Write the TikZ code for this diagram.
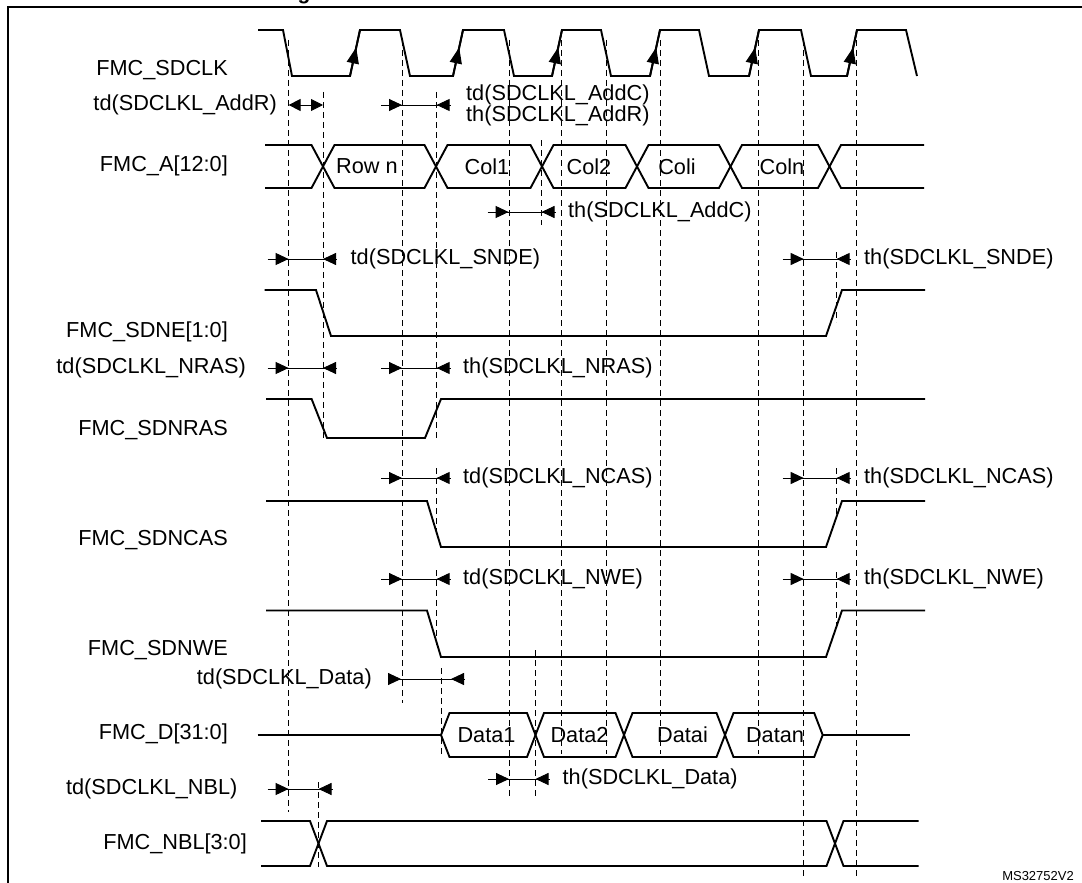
\documentclass[tikz,border=0pt]{standalone}
\usepackage{fontspec}
\setmainfont{Liberation Sans}
\usetikzlibrary{arrows.meta, decorations.markings, calc}
\tikzset{
    wave/.style={line width=1.9pt, line join=miter},
    guide/.style={line width=1pt, dash pattern=on 6pt off 4pt},
    measure/.style={line width=0.9pt},
    tipin/.style={-{Triangle[length=13pt,width=12pt]}, line width=0.9pt},
    clkedge/.style={wave, decoration={markings, mark=at position 0.62 with {\arrow{Triangle[length=16pt,width=12pt]}}}, postaction={decorate}},
    signame/.style={anchor=east, inner sep=0pt, font=\fontsize{21.7}{25}\selectfont},
    timename/.style={anchor=west, inner sep=0pt, font=\fontsize{21.7}{25}\selectfont},
    buslbl/.style={inner sep=0pt, font=\fontsize{21.7}{25}\selectfont}
}
% #1 left tail, #2 y, #3 tip pointing right, #4 tip pointing left
\newcommand{\gapmark}[4][21]{%
    \draw[measure] ({#3-#1},#2) -- ({#4+14},#2);
    \draw[tipin] ({#3-13},#2) -- (#3,#2);
    \draw[tipin] ({#4+13},#2) -- (#4,#2);
}

\begin{document}
\begin{tikzpicture}[x=1pt, y=-1pt]
    \useasboundingbox (0,0) rectangle (1082,883);
    \draw[line width=2.4pt] (8,890) -- (8,7) -- (1090,7);
    \node[font=\bfseries\fontsize{21}{25}\selectfont, anchor=base, inner sep=0pt] (ttl) at (304,0) {g};

    % guide lines
    \foreach \x/\ya/\yb in {288.6/40/812, 323/92/440, 402/40/703, 436.6/92/440,
        436.6/468/535, 436.6/570/645, 441/668/757, 509/40/798, 535.5/650/798,
        541.5/140/225, 561.8/40/754, 606.7/40/754, 660/40/754, 758.5/40/754,
        803.7/40/878, 836.6/252/322, 836.6/468/518, 836.6/572/627, 856.6/40/878,
        318.5/782/867}
        \draw[guide] (\x,\ya) -- (\x,\yb);

    % clock
    \draw[wave] (258,30) -- (283,30) -- (292,76) -- (350,76) -- (360,30) -- (400,30)
        -- (410,76) -- (453,76) -- (463,30) -- (504,30) -- (514,76) -- (552,76)
        -- (562,30) -- (601,30) -- (611,76) -- (650,76) -- (660,30) -- (699,30)
        -- (709,76) -- (749,76) -- (759,30) -- (801,30) -- (811,76) -- (847,76)
        -- (857,30) -- (906,30) -- (917,76);
    \foreach \r in {350,453,552,650,749,847}
        \draw[clkedge] (\r,76) -- (\r+10,30);

    % address bus
    \draw[wave] (265,145) -- (311.5,145) -- (323,166.5) -- (311.5,188) -- (265,188);
    \foreach \a/\b/\tx/\t in {323/436/367/Row n, 436/542/487/Col1, 542/637/589/Col2,
        637/730.5/677/Coli, 730.5/829.5/782/Coln}{
        \draw[wave] (\a,166.5) -- (\a+11.5,145) -- (\b-11.5,145) -- (\b,166.5)
            -- (\b-11.5,188) -- (\a+11.5,188) -- cycle;
        \node[buslbl] at (\tx,166.5) {\t};
    }
    \draw[wave] (924,145) -- (841,145) -- (829.5,166.5) -- (841,188) -- (924,188);

    % control lines
    \draw[wave] (264.5,290) -- (316,290) -- (331,336) -- (826,336) -- (842,290) -- (925,290);
    \draw[wave] (266,399) -- (311.6,399) -- (327,438) -- (425,438) -- (441,399) -- (925,399);
    \draw[wave] (266,501) -- (427,501) -- (441,547) -- (826,547) -- (842,501) -- (925,501);
    \draw[wave] (266,610.5) -- (427,610.5) -- (441,657) -- (826,657) -- (842,610.5) -- (925,610.5);

    % data bus
    \draw[wave] (257.6,735) -- (441,735);
    \foreach \a/\b/\tx/\t in {441/535.5/486.5/Data1, 535.5/624/579.5/Data2,
        624/725/682.5/Datai, 725/822.7/775/Datan}{
        \draw[wave] (\a,735) -- (\a+8.5,713) -- (\b-8.5,713) -- (\b,735)
            -- (\b-8.5,757) -- (\a+8.5,757) -- cycle;
        \node[buslbl] at (\tx,735) {\t};
    }
    \draw[wave] (822.7,735) -- (910,735);

    % byte lanes
    \draw[wave] (261,821) -- (310,821) -- (327,866) -- (826.5,866) -- (843.5,821) -- (918.5,821);
    \draw[wave] (261,866) -- (310,866) -- (327,821) -- (826.5,821) -- (843.5,866) -- (918.5,866);

    % timing marks
    \draw[measure, {Triangle[length=12pt,width=12pt]}-{Triangle[length=12pt,width=12pt]}] (288.6,105) -- (323,105);
    \gapmark{105}{402}{436.6}
    \gapmark{212}{508.6}{541.5}
    \gapmark{259}{288.6}{323}
    \gapmark{259}{803.7}{836.6}
    \gapmark{368}{288.6}{323}
    \gapmark{368}{402}{436.6}
    \gapmark{478}{402}{436.6}
    \gapmark{478}{803.7}{836.6}
    \gapmark{579}{402}{436.6}
    \gapmark{579}{803.7}{836.6}
    \gapmark[13]{679}{401}{451}
    \gapmark{779}{509}{535.5}
    \gapmark{789}{288.6}{318.5}

    % signal names
    \node[signame] (clk) at (228,70) {FMC\_SDCLK};
    \node[signame] (adr) at (228,166) {FMC\_A[12:0]};
    \node[signame] (sdne) at (228,331.5) {FMC\_SDNE[1:0]};
    \node[signame] (nras) at (228,430) {FMC\_SDNRAS};
    \node[signame] (ncas) at (228,540.5) {FMC\_SDNCAS};
    \node[signame] (nwe) at (228,650) {FMC\_SDNWE};
    \node[signame] (dat) at (228,734) {FMC\_D[31:0]};
    \node[signame] (nbl) at (247,844) {FMC\_NBL[3:0]};

    % timing names
    \node[signame] (tdaddr) at (277,105) {td(SDCLKL\_AddR)};
    \node[timename] (tdaddc) at (466,95) {td(SDCLKL\_AddC)};
    \node[timename] (thaddr) at (466,116) {th(SDCLKL\_AddR)};
    \node[timename] (thaddc) at (568,212) {th(SDCLKL\_AddC)};
    \node[timename] (tdsnde) at (350.5,259) {td(SDCLKL\_SNDE)};
    \node[timename] (thsnde) at (864,259) {th(SDCLKL\_SNDE)};
    \node[signame] (tdnras) at (246,368) {td(SDCLKL\_NRAS)};
    \node[timename] (thnras) at (463,368) {th(SDCLKL\_NRAS)};
    \node[timename] (tdncas) at (463,478) {td(SDCLKL\_NCAS)};
    \node[timename] (thncas) at (864,478) {th(SDCLKL\_NCAS)};
    \node[timename] (tdnwe) at (463,579) {td(SDCLKL\_NWE)};
    \node[timename] (thnwe) at (864,579) {th(SDCLKL\_NWE)};
    \node[signame] (tddata) at (372,679) {td(SDCLKL\_Data)};
    \node[timename] (thdata) at (562.5,779) {th(SDCLKL\_Data)};
    \node[signame] (tdnbl) at (237.6,789) {td(SDCLKL\_NBL)};
    \node[anchor=east, inner sep=0pt, font=\fontsize{13}{15}\selectfont] (ref) at (1074,876) {MS32752V2};
\end{tikzpicture}
\end{document}
